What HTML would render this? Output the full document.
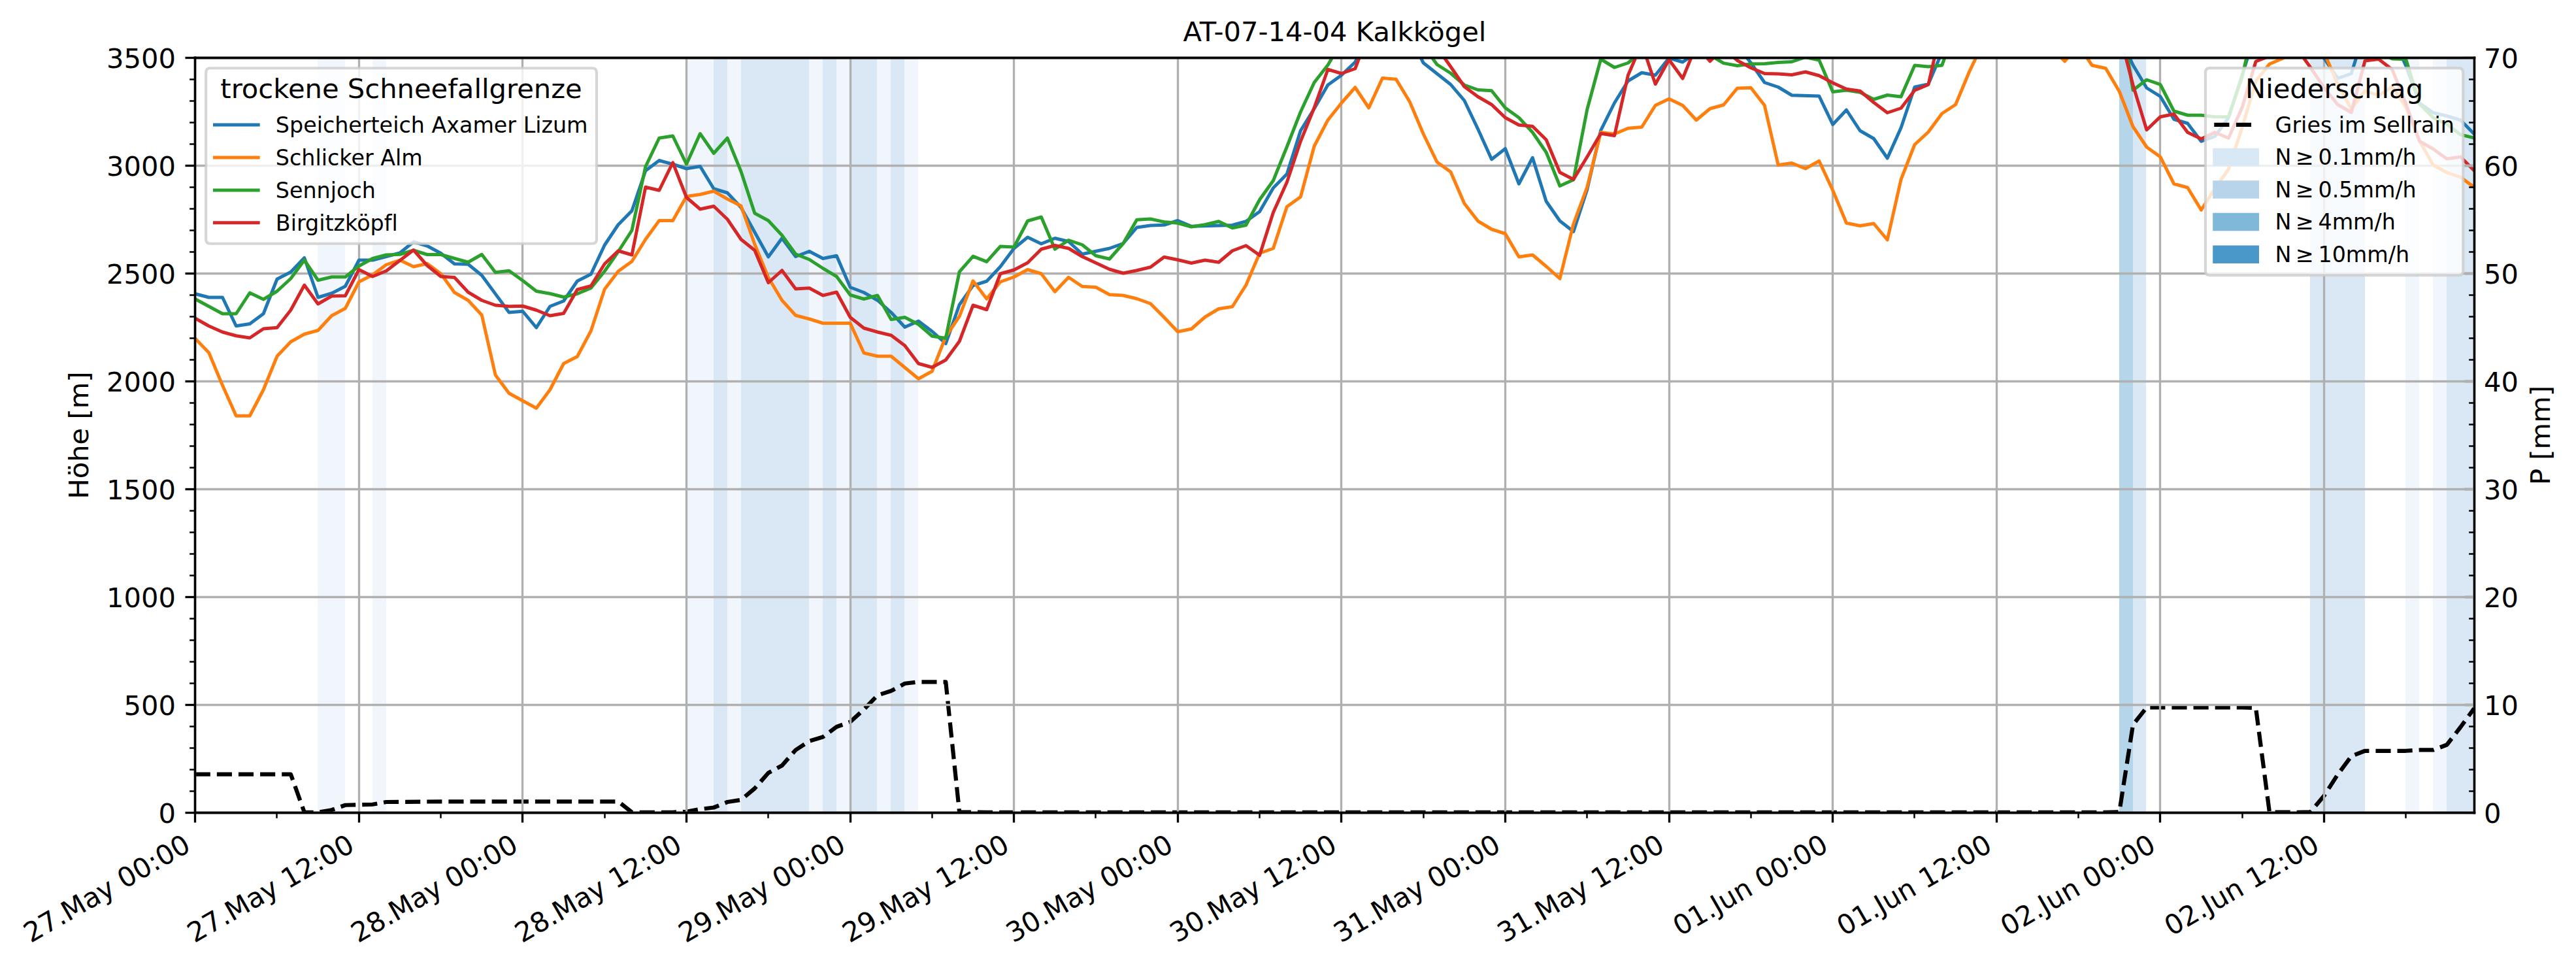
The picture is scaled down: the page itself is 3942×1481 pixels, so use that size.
<!DOCTYPE html>
<html><head><meta charset="utf-8"><title>AT-07-14-04 Kalkkögel</title>
<style>html,body{margin:0;padding:0;background:#fff}svg{display:block}text{font-variant-ligatures:none;font-feature-settings:"liga" 0,"clig" 0}</style></head>
<body>
<svg  width="3942" height="1481" viewBox="0 0 946.08 355.44"  version="1.1">
 
 <defs>
  <style type="text/css">*{stroke-linejoin: round; stroke-linecap: butt}</style>
 </defs>
 <g id="figure_1">
  <g id="patch_1">
   <path d="M 0 355.44 
L 946.08 355.44 
L 946.08 0 
L 0 0 
z
" style="fill: #ffffff"/>
  </g>
  <g id="axes_1">
   <g id="patch_2">
    <path d="M 71.64 298.44 
L 908.76 298.44 
L 908.76 21.24 
L 71.64 21.24 
z
" style="fill: #ffffff"/>
   </g>
   <g id="patch_3">
    <path d="M 116.64 298.44 
L 126.72 298.44 
L 126.72 21.24 
L 116.64 21.24 
z
" clip-path="url(#p593265ad93)" style="fill: #f0f6fb"/>
   </g>
   <g id="patch_4">
    <path d="M 136.8 298.44 
L 141.84 298.44 
L 141.84 21.24 
L 136.8 21.24 
z
" clip-path="url(#p593265ad93)" style="fill: #f0f6fb"/>
   </g>
   <g id="patch_5">
    <path d="M 252 298.44 
L 337.2 298.44 
L 337.2 21.24 
L 252 21.24 
z
" clip-path="url(#p593265ad93)" style="fill: #f0f6fb"/>
   </g>
   <g id="patch_6">
    <path d="M 778.32 298.44 
L 788.16 298.44 
L 788.16 21.24 
L 778.32 21.24 
z
" clip-path="url(#p593265ad93)" style="fill: #f0f6fb"/>
   </g>
   <g id="patch_7">
    <path d="M 848.4 298.44 
L 868.56 298.44 
L 868.56 21.24 
L 848.4 21.24 
z
" clip-path="url(#p593265ad93)" style="fill: #f0f6fb"/>
   </g>
   <g id="patch_8">
    <path d="M 883.44 298.44 
L 888.48 298.44 
L 888.48 21.24 
L 883.44 21.24 
z
" clip-path="url(#p593265ad93)" style="fill: #f0f6fb"/>
   </g>
   <g id="patch_9">
    <path d="M 893.52 298.44 
L 908.64 298.44 
L 908.64 21.24 
L 893.52 21.24 
z
" clip-path="url(#p593265ad93)" style="fill: #f0f6fb"/>
   </g>
   <g id="patch_10">
    <path d="M 262.08 298.44 
L 267.12 298.44 
L 267.12 21.24 
L 262.08 21.24 
z
" clip-path="url(#p593265ad93)" style="fill: #d9e8f4"/>
   </g>
   <g id="patch_11">
    <path d="M 272.16 298.44 
L 297.12 298.44 
L 297.12 21.24 
L 272.16 21.24 
z
" clip-path="url(#p593265ad93)" style="fill: #d9e8f4"/>
   </g>
   <g id="patch_12">
    <path d="M 302.16 298.44 
L 307.2 298.44 
L 307.2 21.24 
L 302.16 21.24 
z
" clip-path="url(#p593265ad93)" style="fill: #d9e8f4"/>
   </g>
   <g id="patch_13">
    <path d="M 312.24 298.44 
L 322.08 298.44 
L 322.08 21.24 
L 312.24 21.24 
z
" clip-path="url(#p593265ad93)" style="fill: #d9e8f4"/>
   </g>
   <g id="patch_14">
    <path d="M 327.12 298.44 
L 332.16 298.44 
L 332.16 21.24 
L 327.12 21.24 
z
" clip-path="url(#p593265ad93)" style="fill: #d9e8f4"/>
   </g>
   <g id="patch_15">
    <path d="M 778.32 298.44 
L 788.16 298.44 
L 788.16 21.24 
L 778.32 21.24 
z
" clip-path="url(#p593265ad93)" style="fill: #d9e8f4"/>
   </g>
   <g id="patch_16">
    <path d="M 848.4 298.44 
L 868.56 298.44 
L 868.56 21.24 
L 848.4 21.24 
z
" clip-path="url(#p593265ad93)" style="fill: #d9e8f4"/>
   </g>
   <g id="patch_17">
    <path d="M 898.56 298.44 
L 908.64 298.44 
L 908.64 21.24 
L 898.56 21.24 
z
" clip-path="url(#p593265ad93)" style="fill: #d9e8f4"/>
   </g>
   <g id="patch_18">
    <path d="M 778.32 298.44 
L 783.36 298.44 
L 783.36 21.24 
L 778.32 21.24 
z
" clip-path="url(#p593265ad93)" style="fill: #b5d5ea"/>
   </g>
   <g id="line2d_1">
    <path d="M 71.688 284.28 
L 106.77144 284.28 
L 111.78336 298.26 
L 116.79528 298.26 
L 121.8072 297.42 
L 126.81912 295.62 
L 136.84296 295.38 
L 141.85488 294.48 
L 156.89064 294.36 
L 227.05752 294.3 
L 232.06944 298.26 
L 247.1052 298.26 
L 252.11712 298.02 
L 257.12904 297.12 
L 262.14096 296.52 
L 267.15288 294.48 
L 272.1648 293.7 
L 277.17672 289.5 
L 282.18864 283.8 
L 287.20056 281.1 
L 292.21248 275.4 
L 297.2244 272.1 
L 302.23632 270.6 
L 307.24824 266.88 
L 312.26016 265.08 
L 317.27208 260.52 
L 322.284 255.3 
L 327.29592 253.68 
L 332.30784 250.98 
L 337.31976 250.38 
L 347.3436 250.38 
L 352.35552 298.2 
L 362.37936 298.2816 
L 773.3568 298.26 
L 778.36872 298.14 
L 783.38064 266.1 
L 788.39256 259.8 
L 823.476 259.8 
L 828.48792 259.92 
L 833.49984 298.2 
L 843.52368 298.26 
L 848.5356 298.14 
L 853.54752 292.2 
L 858.55944 284.4 
L 863.57136 277.68 
L 868.58328 275.7 
L 883.61904 275.7 
L 888.63096 275.4 
L 893.64288 275.4 
L 898.6548 273.48 
L 903.66672 267 
L 908.67864 260.1 
L 908.67864 260.1 
" clip-path="url(#p593265ad93)" style="fill: none; stroke-dasharray: 5.55,2.4; stroke-dashoffset: 0; stroke: #000000; stroke-width: 1.5"/>
   </g>
   <g id="matplotlib.axis_1">
    <g id="xtick_1">
     <g id="line2d_2">
      <path d="M 71.640000 298.44 
L 71.640000 21.24 
" clip-path="url(#p593265ad93)" style="fill: none; stroke: #b0b0b0; stroke-width: 0.8; stroke-linecap: square"/>
     </g>
     <g id="line2d_3">
      <defs>
       <path id="m8d79d36b46" d="M 0 0 
L 0 3.6 
" style="stroke: #000000; stroke-width: 0.8"/>
      </defs>
      <g>
       <use href="#m8d79d36b46" x="71.640000" y="298.44" style="stroke: #000000; stroke-width: 0.8"/>
      </g>
     </g>
     <g id="text_1">
      <text style="font-size: 10px; font-family: 'DejaVu Sans', 'Liberation Sans', sans-serif" transform="translate(11.260464 346.40794) rotate(-30)">27.May 00:00</text>
     </g>
    </g>
    <g id="xtick_2">
     <g id="line2d_4">
      <path d="M 131.880000 298.44 
L 131.880000 21.24 
" clip-path="url(#p593265ad93)" style="fill: none; stroke: #b0b0b0; stroke-width: 0.8; stroke-linecap: square"/>
     </g>
     <g id="line2d_5">
      <g>
       <use href="#m8d79d36b46" x="131.880000" y="298.44" style="stroke: #000000; stroke-width: 0.8"/>
      </g>
     </g>
     <g id="text_2">
      <text style="font-size: 10px; font-family: 'DejaVu Sans', 'Liberation Sans', sans-serif" transform="translate(71.403504 346.40794) rotate(-30)">27.May 12:00</text>
     </g>
    </g>
    <g id="xtick_3">
     <g id="line2d_6">
      <path d="M 191.880000 298.44 
L 191.880000 21.24 
" clip-path="url(#p593265ad93)" style="fill: none; stroke: #b0b0b0; stroke-width: 0.8; stroke-linecap: square"/>
     </g>
     <g id="line2d_7">
      <g>
       <use href="#m8d79d36b46" x="191.880000" y="298.44" style="stroke: #000000; stroke-width: 0.8"/>
      </g>
     </g>
     <g id="text_3">
      <text style="font-size: 10px; font-family: 'DejaVu Sans', 'Liberation Sans', sans-serif" transform="translate(131.546544 346.40794) rotate(-30)">28.May 00:00</text>
     </g>
    </g>
    <g id="xtick_4">
     <g id="line2d_8">
      <path d="M 252.120000 298.44 
L 252.120000 21.24 
" clip-path="url(#p593265ad93)" style="fill: none; stroke: #b0b0b0; stroke-width: 0.8; stroke-linecap: square"/>
     </g>
     <g id="line2d_9">
      <g>
       <use href="#m8d79d36b46" x="252.120000" y="298.44" style="stroke: #000000; stroke-width: 0.8"/>
      </g>
     </g>
     <g id="text_4">
      <text style="font-size: 10px; font-family: 'DejaVu Sans', 'Liberation Sans', sans-serif" transform="translate(191.689584 346.40794) rotate(-30)">28.May 12:00</text>
     </g>
    </g>
    <g id="xtick_5">
     <g id="line2d_10">
      <path d="M 312.360000 298.44 
L 312.360000 21.24 
" clip-path="url(#p593265ad93)" style="fill: none; stroke: #b0b0b0; stroke-width: 0.8; stroke-linecap: square"/>
     </g>
     <g id="line2d_11">
      <g>
       <use href="#m8d79d36b46" x="312.360000" y="298.44" style="stroke: #000000; stroke-width: 0.8"/>
      </g>
     </g>
     <g id="text_5">
      <text style="font-size: 10px; font-family: 'DejaVu Sans', 'Liberation Sans', sans-serif" transform="translate(251.832624 346.40794) rotate(-30)">29.May 00:00</text>
     </g>
    </g>
    <g id="xtick_6">
     <g id="line2d_12">
      <path d="M 372.360000 298.44 
L 372.360000 21.24 
" clip-path="url(#p593265ad93)" style="fill: none; stroke: #b0b0b0; stroke-width: 0.8; stroke-linecap: square"/>
     </g>
     <g id="line2d_13">
      <g>
       <use href="#m8d79d36b46" x="372.360000" y="298.44" style="stroke: #000000; stroke-width: 0.8"/>
      </g>
     </g>
     <g id="text_6">
      <text style="font-size: 10px; font-family: 'DejaVu Sans', 'Liberation Sans', sans-serif" transform="translate(311.975664 346.40794) rotate(-30)">29.May 12:00</text>
     </g>
    </g>
    <g id="xtick_7">
     <g id="line2d_14">
      <path d="M 432.600000 298.44 
L 432.600000 21.24 
" clip-path="url(#p593265ad93)" style="fill: none; stroke: #b0b0b0; stroke-width: 0.8; stroke-linecap: square"/>
     </g>
     <g id="line2d_15">
      <g>
       <use href="#m8d79d36b46" x="432.600000" y="298.44" style="stroke: #000000; stroke-width: 0.8"/>
      </g>
     </g>
     <g id="text_7">
      <text style="font-size: 10px; font-family: 'DejaVu Sans', 'Liberation Sans', sans-serif" transform="translate(372.118704 346.40794) rotate(-30)">30.May 00:00</text>
     </g>
    </g>
    <g id="xtick_8">
     <g id="line2d_16">
      <path d="M 492.600000 298.44 
L 492.600000 21.24 
" clip-path="url(#p593265ad93)" style="fill: none; stroke: #b0b0b0; stroke-width: 0.8; stroke-linecap: square"/>
     </g>
     <g id="line2d_17">
      <g>
       <use href="#m8d79d36b46" x="492.600000" y="298.44" style="stroke: #000000; stroke-width: 0.8"/>
      </g>
     </g>
     <g id="text_8">
      <text style="font-size: 10px; font-family: 'DejaVu Sans', 'Liberation Sans', sans-serif" transform="translate(432.261744 346.40794) rotate(-30)">30.May 12:00</text>
     </g>
    </g>
    <g id="xtick_9">
     <g id="line2d_18">
      <path d="M 552.840000 298.44 
L 552.840000 21.24 
" clip-path="url(#p593265ad93)" style="fill: none; stroke: #b0b0b0; stroke-width: 0.8; stroke-linecap: square"/>
     </g>
     <g id="line2d_19">
      <g>
       <use href="#m8d79d36b46" x="552.840000" y="298.44" style="stroke: #000000; stroke-width: 0.8"/>
      </g>
     </g>
     <g id="text_9">
      <text style="font-size: 10px; font-family: 'DejaVu Sans', 'Liberation Sans', sans-serif" transform="translate(492.404784 346.40794) rotate(-30)">31.May 00:00</text>
     </g>
    </g>
    <g id="xtick_10">
     <g id="line2d_20">
      <path d="M 613.080000 298.44 
L 613.080000 21.24 
" clip-path="url(#p593265ad93)" style="fill: none; stroke: #b0b0b0; stroke-width: 0.8; stroke-linecap: square"/>
     </g>
     <g id="line2d_21">
      <g>
       <use href="#m8d79d36b46" x="613.080000" y="298.44" style="stroke: #000000; stroke-width: 0.8"/>
      </g>
     </g>
     <g id="text_10">
      <text style="font-size: 10px; font-family: 'DejaVu Sans', 'Liberation Sans', sans-serif" transform="translate(552.547824 346.40794) rotate(-30)">31.May 12:00</text>
     </g>
    </g>
    <g id="xtick_11">
     <g id="line2d_22">
      <path d="M 673.080000 298.44 
L 673.080000 21.24 
" clip-path="url(#p593265ad93)" style="fill: none; stroke: #b0b0b0; stroke-width: 0.8; stroke-linecap: square"/>
     </g>
     <g id="line2d_23">
      <g>
       <use href="#m8d79d36b46" x="673.080000" y="298.44" style="stroke: #000000; stroke-width: 0.8"/>
      </g>
     </g>
     <g id="text_11">
      <text style="font-size: 10px; font-family: 'DejaVu Sans', 'Liberation Sans', sans-serif" transform="translate(617.064292 343.88294) rotate(-30)">01.Jun 00:00</text>
     </g>
    </g>
    <g id="xtick_12">
     <g id="line2d_24">
      <path d="M 733.320000 298.44 
L 733.320000 21.24 
" clip-path="url(#p593265ad93)" style="fill: none; stroke: #b0b0b0; stroke-width: 0.8; stroke-linecap: square"/>
     </g>
     <g id="line2d_25">
      <g>
       <use href="#m8d79d36b46" x="733.320000" y="298.44" style="stroke: #000000; stroke-width: 0.8"/>
      </g>
     </g>
     <g id="text_12">
      <text style="font-size: 10px; font-family: 'DejaVu Sans', 'Liberation Sans', sans-serif" transform="translate(677.207332 343.88294) rotate(-30)">01.Jun 12:00</text>
     </g>
    </g>
    <g id="xtick_13">
     <g id="line2d_26">
      <path d="M 793.320000 298.44 
L 793.320000 21.24 
" clip-path="url(#p593265ad93)" style="fill: none; stroke: #b0b0b0; stroke-width: 0.8; stroke-linecap: square"/>
     </g>
     <g id="line2d_27">
      <g>
       <use href="#m8d79d36b46" x="793.320000" y="298.44" style="stroke: #000000; stroke-width: 0.8"/>
      </g>
     </g>
     <g id="text_13">
      <text style="font-size: 10px; font-family: 'DejaVu Sans', 'Liberation Sans', sans-serif" transform="translate(737.350372 343.88294) rotate(-30)">02.Jun 00:00</text>
     </g>
    </g>
    <g id="xtick_14">
     <g id="line2d_28">
      <path d="M 853.560000 298.44 
L 853.560000 21.24 
" clip-path="url(#p593265ad93)" style="fill: none; stroke: #b0b0b0; stroke-width: 0.8; stroke-linecap: square"/>
     </g>
     <g id="line2d_29">
      <g>
       <use href="#m8d79d36b46" x="853.560000" y="298.44" style="stroke: #000000; stroke-width: 0.8"/>
      </g>
     </g>
     <g id="text_14">
      <text style="font-size: 10px; font-family: 'DejaVu Sans', 'Liberation Sans', sans-serif" transform="translate(797.493412 343.88294) rotate(-30)">02.Jun 12:00</text>
     </g>
    </g>
    <g id="xtick_15">
     <g id="line2d_30">
      <defs>
       <path id="m8cb13691d2" d="M 0 0 
L 0 2 
" style="stroke: #000000; stroke-width: 0.6"/>
      </defs>
      <g>
       <use href="#m8cb13691d2" x="101.640000" y="298.44" style="stroke: #000000; stroke-width: 0.6"/>
      </g>
     </g>
    </g>
    <g id="xtick_16">
     <g id="line2d_31">
      <g>
       <use href="#m8cb13691d2" x="161.880000" y="298.44" style="stroke: #000000; stroke-width: 0.6"/>
      </g>
     </g>
    </g>
    <g id="xtick_17">
     <g id="line2d_32">
      <g>
       <use href="#m8cb13691d2" x="222.120000" y="298.44" style="stroke: #000000; stroke-width: 0.6"/>
      </g>
     </g>
    </g>
    <g id="xtick_18">
     <g id="line2d_33">
      <g>
       <use href="#m8cb13691d2" x="282.120000" y="298.44" style="stroke: #000000; stroke-width: 0.6"/>
      </g>
     </g>
    </g>
    <g id="xtick_19">
     <g id="line2d_34">
      <g>
       <use href="#m8cb13691d2" x="342.360000" y="298.44" style="stroke: #000000; stroke-width: 0.6"/>
      </g>
     </g>
    </g>
    <g id="xtick_20">
     <g id="line2d_35">
      <g>
       <use href="#m8cb13691d2" x="402.360000" y="298.44" style="stroke: #000000; stroke-width: 0.6"/>
      </g>
     </g>
    </g>
    <g id="xtick_21">
     <g id="line2d_36">
      <g>
       <use href="#m8cb13691d2" x="462.600000" y="298.44" style="stroke: #000000; stroke-width: 0.6"/>
      </g>
     </g>
    </g>
    <g id="xtick_22">
     <g id="line2d_37">
      <g>
       <use href="#m8cb13691d2" x="522.840000" y="298.44" style="stroke: #000000; stroke-width: 0.6"/>
      </g>
     </g>
    </g>
    <g id="xtick_23">
     <g id="line2d_38">
      <g>
       <use href="#m8cb13691d2" x="582.840000" y="298.44" style="stroke: #000000; stroke-width: 0.6"/>
      </g>
     </g>
    </g>
    <g id="xtick_24">
     <g id="line2d_39">
      <g>
       <use href="#m8cb13691d2" x="643.080000" y="298.44" style="stroke: #000000; stroke-width: 0.6"/>
      </g>
     </g>
    </g>
    <g id="xtick_25">
     <g id="line2d_40">
      <g>
       <use href="#m8cb13691d2" x="703.080000" y="298.44" style="stroke: #000000; stroke-width: 0.6"/>
      </g>
     </g>
    </g>
    <g id="xtick_26">
     <g id="line2d_41">
      <g>
       <use href="#m8cb13691d2" x="763.320000" y="298.44" style="stroke: #000000; stroke-width: 0.6"/>
      </g>
     </g>
    </g>
    <g id="xtick_27">
     <g id="line2d_42">
      <g>
       <use href="#m8cb13691d2" x="823.560000" y="298.44" style="stroke: #000000; stroke-width: 0.6"/>
      </g>
     </g>
    </g>
    <g id="xtick_28">
     <g id="line2d_43">
      <g>
       <use href="#m8cb13691d2" x="883.560000" y="298.44" style="stroke: #000000; stroke-width: 0.6"/>
      </g>
     </g>
    </g>
   </g>
   <g id="matplotlib.axis_2">
    <g id="ytick_1">
     <g id="line2d_44">
      <path d="M 71.64 298.440000 
L 908.76 298.440000 
" clip-path="url(#p593265ad93)" style="fill: none; stroke: #b0b0b0; stroke-width: 0.8; stroke-linecap: square"/>
     </g>
     <g id="line2d_45">
      <defs>
       <path id="m5700839b48" d="M 0 0 
L -3.6 0 
" style="stroke: #000000; stroke-width: 0.8"/>
      </defs>
      <g>
       <use href="#m5700839b48" x="71.64" y="298.440000" style="stroke: #000000; stroke-width: 0.8"/>
      </g>
     </g>
     <g id="text_15">
      <text style="font-size: 10px; font-family: 'DejaVu Sans', 'Liberation Sans', sans-serif; text-anchor: end" x="64.54" y="302.239219" transform="rotate(-0 64.54 302.239219)">0</text>
     </g>
    </g>
    <g id="ytick_2">
     <g id="line2d_46">
      <path d="M 71.64 258.840000 
L 908.76 258.840000 
" clip-path="url(#p593265ad93)" style="fill: none; stroke: #b0b0b0; stroke-width: 0.8; stroke-linecap: square"/>
     </g>
     <g id="line2d_47">
      <g>
       <use href="#m5700839b48" x="71.64" y="258.840000" style="stroke: #000000; stroke-width: 0.8"/>
      </g>
     </g>
     <g id="text_16">
      <text style="font-size: 10px; font-family: 'DejaVu Sans', 'Liberation Sans', sans-serif; text-anchor: end" x="64.54" y="262.639219" transform="rotate(-0 64.54 262.639219)">500</text>
     </g>
    </g>
    <g id="ytick_3">
     <g id="line2d_48">
      <path d="M 71.64 219.240000 
L 908.76 219.240000 
" clip-path="url(#p593265ad93)" style="fill: none; stroke: #b0b0b0; stroke-width: 0.8; stroke-linecap: square"/>
     </g>
     <g id="line2d_49">
      <g>
       <use href="#m5700839b48" x="71.64" y="219.240000" style="stroke: #000000; stroke-width: 0.8"/>
      </g>
     </g>
     <g id="text_17">
      <text style="font-size: 10px; font-family: 'DejaVu Sans', 'Liberation Sans', sans-serif; text-anchor: end" x="64.54" y="223.039219" transform="rotate(-0 64.54 223.039219)">1000</text>
     </g>
    </g>
    <g id="ytick_4">
     <g id="line2d_50">
      <path d="M 71.64 179.640000 
L 908.76 179.640000 
" clip-path="url(#p593265ad93)" style="fill: none; stroke: #b0b0b0; stroke-width: 0.8; stroke-linecap: square"/>
     </g>
     <g id="line2d_51">
      <g>
       <use href="#m5700839b48" x="71.64" y="179.640000" style="stroke: #000000; stroke-width: 0.8"/>
      </g>
     </g>
     <g id="text_18">
      <text style="font-size: 10px; font-family: 'DejaVu Sans', 'Liberation Sans', sans-serif; text-anchor: end" x="64.54" y="183.439219" transform="rotate(-0 64.54 183.439219)">1500</text>
     </g>
    </g>
    <g id="ytick_5">
     <g id="line2d_52">
      <path d="M 71.64 140.040000 
L 908.76 140.040000 
" clip-path="url(#p593265ad93)" style="fill: none; stroke: #b0b0b0; stroke-width: 0.8; stroke-linecap: square"/>
     </g>
     <g id="line2d_53">
      <g>
       <use href="#m5700839b48" x="71.64" y="140.040000" style="stroke: #000000; stroke-width: 0.8"/>
      </g>
     </g>
     <g id="text_19">
      <text style="font-size: 10px; font-family: 'DejaVu Sans', 'Liberation Sans', sans-serif; text-anchor: end" x="64.54" y="143.839219" transform="rotate(-0 64.54 143.839219)">2000</text>
     </g>
    </g>
    <g id="ytick_6">
     <g id="line2d_54">
      <path d="M 71.64 100.440000 
L 908.76 100.440000 
" clip-path="url(#p593265ad93)" style="fill: none; stroke: #b0b0b0; stroke-width: 0.8; stroke-linecap: square"/>
     </g>
     <g id="line2d_55">
      <g>
       <use href="#m5700839b48" x="71.64" y="100.440000" style="stroke: #000000; stroke-width: 0.8"/>
      </g>
     </g>
     <g id="text_20">
      <text style="font-size: 10px; font-family: 'DejaVu Sans', 'Liberation Sans', sans-serif; text-anchor: end" x="64.54" y="104.239219" transform="rotate(-0 64.54 104.239219)">2500</text>
     </g>
    </g>
    <g id="ytick_7">
     <g id="line2d_56">
      <path d="M 71.64 60.840000 
L 908.76 60.840000 
" clip-path="url(#p593265ad93)" style="fill: none; stroke: #b0b0b0; stroke-width: 0.8; stroke-linecap: square"/>
     </g>
     <g id="line2d_57">
      <g>
       <use href="#m5700839b48" x="71.64" y="60.840000" style="stroke: #000000; stroke-width: 0.8"/>
      </g>
     </g>
     <g id="text_21">
      <text style="font-size: 10px; font-family: 'DejaVu Sans', 'Liberation Sans', sans-serif; text-anchor: end" x="64.54" y="64.639219" transform="rotate(-0 64.54 64.639219)">3000</text>
     </g>
    </g>
    <g id="ytick_8">
     <g id="line2d_58">
      <path d="M 71.64 21.240000 
L 908.76 21.240000 
" clip-path="url(#p593265ad93)" style="fill: none; stroke: #b0b0b0; stroke-width: 0.8; stroke-linecap: square"/>
     </g>
     <g id="line2d_59">
      <g>
       <use href="#m5700839b48" x="71.64" y="21.240000" style="stroke: #000000; stroke-width: 0.8"/>
      </g>
     </g>
     <g id="text_22">
      <text style="font-size: 10px; font-family: 'DejaVu Sans', 'Liberation Sans', sans-serif; text-anchor: end" x="64.54" y="25.039219" transform="rotate(-0 64.54 25.039219)">3500</text>
     </g>
    </g>
    <g id="ytick_9">
     <g id="line2d_60">
      <defs>
       <path id="m90fd80a96a" d="M 0 0 
L -2 0 
" style="stroke: #000000; stroke-width: 0.6"/>
      </defs>
      <g>
       <use href="#m90fd80a96a" x="71.64" y="290.520000" style="stroke: #000000; stroke-width: 0.6"/>
      </g>
     </g>
    </g>
    <g id="ytick_10">
     <g id="line2d_61">
      <g>
       <use href="#m90fd80a96a" x="71.64" y="282.600000" style="stroke: #000000; stroke-width: 0.6"/>
      </g>
     </g>
    </g>
    <g id="ytick_11">
     <g id="line2d_62">
      <g>
       <use href="#m90fd80a96a" x="71.64" y="274.680000" style="stroke: #000000; stroke-width: 0.6"/>
      </g>
     </g>
    </g>
    <g id="ytick_12">
     <g id="line2d_63">
      <g>
       <use href="#m90fd80a96a" x="71.64" y="266.760000" style="stroke: #000000; stroke-width: 0.6"/>
      </g>
     </g>
    </g>
    <g id="ytick_13">
     <g id="line2d_64">
      <g>
       <use href="#m90fd80a96a" x="71.64" y="250.920000" style="stroke: #000000; stroke-width: 0.6"/>
      </g>
     </g>
    </g>
    <g id="ytick_14">
     <g id="line2d_65">
      <g>
       <use href="#m90fd80a96a" x="71.64" y="243.000000" style="stroke: #000000; stroke-width: 0.6"/>
      </g>
     </g>
    </g>
    <g id="ytick_15">
     <g id="line2d_66">
      <g>
       <use href="#m90fd80a96a" x="71.64" y="235.080000" style="stroke: #000000; stroke-width: 0.6"/>
      </g>
     </g>
    </g>
    <g id="ytick_16">
     <g id="line2d_67">
      <g>
       <use href="#m90fd80a96a" x="71.64" y="227.160000" style="stroke: #000000; stroke-width: 0.6"/>
      </g>
     </g>
    </g>
    <g id="ytick_17">
     <g id="line2d_68">
      <g>
       <use href="#m90fd80a96a" x="71.64" y="211.320000" style="stroke: #000000; stroke-width: 0.6"/>
      </g>
     </g>
    </g>
    <g id="ytick_18">
     <g id="line2d_69">
      <g>
       <use href="#m90fd80a96a" x="71.64" y="203.400000" style="stroke: #000000; stroke-width: 0.6"/>
      </g>
     </g>
    </g>
    <g id="ytick_19">
     <g id="line2d_70">
      <g>
       <use href="#m90fd80a96a" x="71.64" y="195.480000" style="stroke: #000000; stroke-width: 0.6"/>
      </g>
     </g>
    </g>
    <g id="ytick_20">
     <g id="line2d_71">
      <g>
       <use href="#m90fd80a96a" x="71.64" y="187.560000" style="stroke: #000000; stroke-width: 0.6"/>
      </g>
     </g>
    </g>
    <g id="ytick_21">
     <g id="line2d_72">
      <g>
       <use href="#m90fd80a96a" x="71.64" y="171.720000" style="stroke: #000000; stroke-width: 0.6"/>
      </g>
     </g>
    </g>
    <g id="ytick_22">
     <g id="line2d_73">
      <g>
       <use href="#m90fd80a96a" x="71.64" y="163.800000" style="stroke: #000000; stroke-width: 0.6"/>
      </g>
     </g>
    </g>
    <g id="ytick_23">
     <g id="line2d_74">
      <g>
       <use href="#m90fd80a96a" x="71.64" y="155.880000" style="stroke: #000000; stroke-width: 0.6"/>
      </g>
     </g>
    </g>
    <g id="ytick_24">
     <g id="line2d_75">
      <g>
       <use href="#m90fd80a96a" x="71.64" y="147.960000" style="stroke: #000000; stroke-width: 0.6"/>
      </g>
     </g>
    </g>
    <g id="ytick_25">
     <g id="line2d_76">
      <g>
       <use href="#m90fd80a96a" x="71.64" y="132.120000" style="stroke: #000000; stroke-width: 0.6"/>
      </g>
     </g>
    </g>
    <g id="ytick_26">
     <g id="line2d_77">
      <g>
       <use href="#m90fd80a96a" x="71.64" y="124.200000" style="stroke: #000000; stroke-width: 0.6"/>
      </g>
     </g>
    </g>
    <g id="ytick_27">
     <g id="line2d_78">
      <g>
       <use href="#m90fd80a96a" x="71.64" y="116.280000" style="stroke: #000000; stroke-width: 0.6"/>
      </g>
     </g>
    </g>
    <g id="ytick_28">
     <g id="line2d_79">
      <g>
       <use href="#m90fd80a96a" x="71.64" y="108.360000" style="stroke: #000000; stroke-width: 0.6"/>
      </g>
     </g>
    </g>
    <g id="ytick_29">
     <g id="line2d_80">
      <g>
       <use href="#m90fd80a96a" x="71.64" y="92.520000" style="stroke: #000000; stroke-width: 0.6"/>
      </g>
     </g>
    </g>
    <g id="ytick_30">
     <g id="line2d_81">
      <g>
       <use href="#m90fd80a96a" x="71.64" y="84.600000" style="stroke: #000000; stroke-width: 0.6"/>
      </g>
     </g>
    </g>
    <g id="ytick_31">
     <g id="line2d_82">
      <g>
       <use href="#m90fd80a96a" x="71.64" y="76.680000" style="stroke: #000000; stroke-width: 0.6"/>
      </g>
     </g>
    </g>
    <g id="ytick_32">
     <g id="line2d_83">
      <g>
       <use href="#m90fd80a96a" x="71.64" y="68.760000" style="stroke: #000000; stroke-width: 0.6"/>
      </g>
     </g>
    </g>
    <g id="ytick_33">
     <g id="line2d_84">
      <g>
       <use href="#m90fd80a96a" x="71.64" y="52.920000" style="stroke: #000000; stroke-width: 0.6"/>
      </g>
     </g>
    </g>
    <g id="ytick_34">
     <g id="line2d_85">
      <g>
       <use href="#m90fd80a96a" x="71.64" y="45.000000" style="stroke: #000000; stroke-width: 0.6"/>
      </g>
     </g>
    </g>
    <g id="ytick_35">
     <g id="line2d_86">
      <g>
       <use href="#m90fd80a96a" x="71.64" y="37.080000" style="stroke: #000000; stroke-width: 0.6"/>
      </g>
     </g>
    </g>
    <g id="ytick_36">
     <g id="line2d_87">
      <g>
       <use href="#m90fd80a96a" x="71.64" y="29.160000" style="stroke: #000000; stroke-width: 0.6"/>
      </g>
     </g>
    </g>
    <g id="text_23">
     <text style="font-size: 10px; font-family: 'DejaVu Sans', 'Liberation Sans', sans-serif; text-anchor: middle" x="32.290312" y="159.84" transform="rotate(-90 32.290312 159.84)">Höhe [m]</text>
    </g>
   </g>
   <g id="line2d_88">
    <path d="M 71.688 107.88 
L 76.69992 109.2 
L 81.71184 109.2 
L 86.72376 119.7 
L 91.73568 118.92 
L 96.7476 115.2 
L 101.75952 102.48 
L 106.77144 99.9 
L 111.78336 94.68 
L 116.79528 109.2 
L 121.8072 107.7 
L 126.81912 105.12 
L 131.83104 95.52 
L 136.84296 95.52 
L 146.8668 92.88 
L 151.87872 88.8 
L 156.89064 90.3 
L 161.90256 93 
L 166.91448 96.9 
L 171.9264 97.02 
L 176.93832 101.1 
L 186.96216 114.72 
L 191.97408 114.3 
L 196.986 120.3 
L 201.99792 112.5 
L 207.00984 110.52 
L 212.02176 103.2 
L 217.03368 100.68 
L 222.0456 90 
L 227.05752 82.5 
L 232.06944 77.4 
L 237.08136 62.7 
L 242.09328 58.92 
L 247.1052 60.3 
L 252.11712 61.92 
L 257.12904 61.08 
L 262.14096 69.3 
L 267.15288 70.8 
L 272.1648 76.2 
L 282.18864 94.32 
L 287.20056 87.48 
L 292.21248 94.2 
L 297.2244 92.28 
L 302.23632 94.92 
L 307.24824 93.9 
L 312.26016 105.48 
L 317.27208 107.4 
L 322.284 110.28 
L 327.29592 114.72 
L 332.30784 120.12 
L 337.31976 117.9 
L 342.33168 121.68 
L 347.3436 126.18 
L 352.35552 111.9 
L 357.36744 104.85 
L 362.37936 103.26 
L 367.39128 97.92 
L 372.4032 91.2 
L 377.41512 87.12 
L 382.42704 89.52 
L 387.43896 87.48 
L 392.45088 88.68 
L 397.4628 93.3 
L 407.48664 91.2 
L 412.49856 89.4 
L 417.51048 83.52 
L 422.5224 82.8 
L 427.53432 82.62 
L 432.54624 81 
L 437.55816 83.1 
L 452.59392 82.68 
L 457.60584 81.3 
L 462.61776 77.7 
L 467.62968 69 
L 472.6416 63.9 
L 477.65352 48 
L 482.66544 39.9 
L 487.67736 31.2 
L 492.68928 27.6 
L 497.7012 22.8 
L 502.71312 13.2 
L 507.72504 10.2 
L 512.73696 10.2 
L 517.74888 13.32 
L 522.7608 23.1 
L 532.78464 31.02 
L 537.79656 36.9 
L 542.80848 47.4 
L 547.8204 58.5 
L 552.83232 54.6 
L 557.84424 67.5 
L 562.85616 57.9 
L 567.86808 73.92 
L 572.88 81.12 
L 577.89192 85.02 
L 582.90384 69.6 
L 587.91576 47.88 
L 592.92768 37.8 
L 597.9396 29.7 
L 602.95152 26.7 
L 607.96344 27.6 
L 612.97536 21.3 
L 617.98728 22.8 
L 622.9992 19.392 
L 628.01112 10.8 
L 633.02304 16.8 
L 638.03496 16.56 
L 643.04688 23.1 
L 648.0588 30.3 
L 653.07072 31.98 
L 658.08264 34.98 
L 668.10648 35.28 
L 673.1184 45.72 
L 678.13032 40.38 
L 683.14224 48 
L 688.15416 50.88 
L 693.16608 58.08 
L 698.178 46.92 
L 703.18992 31.98 
L 708.20184 30.9 
L 713.21376 19.2 
L 718.22568 10.2 
L 723.2376 10.8 
L 773.3568 10.8 
L 778.36872 13.2 
L 783.38064 23.88 
L 788.39256 32.28 
L 793.40448 35.4 
L 798.4164 43.8 
L 803.42832 45.3 
L 808.44024 51.9 
L 813.45216 50.1 
L 818.46408 43.2 
L 823.476 27.6 
L 828.48792 11.52 
L 833.49984 9.6 
L 843.52368 9.6 
L 848.5356 10.8 
L 853.54752 21.36 
L 858.55944 28.8 
L 863.57136 27 
L 868.58328 10.8 
L 873.5952 9.6 
L 878.60712 13.2 
L 883.61904 24.168 
L 888.63096 37.848 
L 893.64288 41.4 
L 898.6548 42.6 
L 903.66672 44.1 
L 908.67864 49.2 
L 908.67864 49.2 
" clip-path="url(#p593265ad93)" style="fill: none; stroke: #1f77b4; stroke-width: 1.2; stroke-linecap: square"/>
   </g>
   <g id="line2d_89">
    <path d="M 71.688 124.32 
L 76.69992 129.48 
L 81.71184 141.48 
L 86.72376 152.7 
L 91.73568 152.7 
L 96.7476 143.1 
L 101.75952 130.8 
L 106.77144 125.52 
L 111.78336 122.7 
L 116.79528 121.32 
L 121.8072 115.92 
L 126.81912 113.22 
L 131.83104 103.5 
L 136.84296 100.92 
L 141.85488 97.2 
L 146.8668 95.52 
L 151.87872 97.92 
L 156.89064 96.78 
L 161.90256 100.5 
L 166.91448 107.4 
L 171.9264 110.28 
L 176.93832 115.68 
L 181.95024 137.7 
L 186.96216 144.42 
L 196.986 149.88 
L 201.99792 143.1 
L 207.00984 133.5 
L 212.02176 130.92 
L 217.03368 121.5 
L 222.0456 106.2 
L 227.05752 99.6 
L 232.06944 96 
L 237.08136 87.9 
L 242.09328 81 
L 247.1052 81 
L 252.11712 72.12 
L 257.12904 71.4 
L 262.14096 70.2 
L 267.15288 73.08 
L 272.1648 75.6 
L 277.17672 89.7 
L 282.18864 101.88 
L 287.20056 110.28 
L 292.21248 115.8 
L 297.2244 117.12 
L 302.23632 118.68 
L 312.26016 118.68 
L 317.27208 129.6 
L 322.284 130.8 
L 327.29592 130.8 
L 337.31976 139.08 
L 342.33168 136.32 
L 347.3436 123.6 
L 352.35552 116.19 
L 357.36744 103.14 
L 362.37936 109.74 
L 367.39128 103.5 
L 372.4032 101.7 
L 377.41512 99 
L 382.42704 100.5 
L 387.43896 107.1 
L 392.45088 101.82 
L 397.4628 105.18 
L 402.47472 105.48 
L 407.48664 108.18 
L 412.49856 108.48 
L 417.51048 109.68 
L 422.5224 111.48 
L 427.53432 116.52 
L 432.54624 121.8 
L 437.55816 120.78 
L 442.57008 116.4 
L 447.582 113.4 
L 452.59392 112.62 
L 457.60584 104.7 
L 462.61776 93 
L 467.62968 91.2 
L 472.6416 75.9 
L 477.65352 72.3 
L 482.66544 53.7 
L 487.67736 44.1 
L 492.68928 37.8 
L 497.7012 32.1 
L 502.71312 39.6 
L 507.72504 28.68 
L 512.73696 29.1 
L 517.74888 37.38 
L 522.7608 49.2 
L 527.77272 59.52 
L 532.78464 63.12 
L 537.79656 74.7 
L 542.80848 81.18 
L 547.8204 84.18 
L 552.83232 85.8 
L 557.84424 94.32 
L 562.85616 93.6 
L 567.86808 97.8 
L 572.88 102.3 
L 577.89192 82.2 
L 582.90384 68.7 
L 587.91576 48.6 
L 592.92768 49.2 
L 597.9396 47.1 
L 602.95152 46.68 
L 607.96344 38.7 
L 612.97536 36.3 
L 617.98728 38.7 
L 622.9992 44.1 
L 628.01112 39.9 
L 633.02304 38.52 
L 638.03496 32.4 
L 643.04688 32.22 
L 648.0588 38.7 
L 653.07072 60.6 
L 658.08264 59.88 
L 663.09456 61.92 
L 668.10648 59.1 
L 673.1184 69.9 
L 678.13032 81.9 
L 683.14224 82.92 
L 688.15416 82.08 
L 693.16608 88.08 
L 698.178 65.88 
L 703.18992 53.1 
L 708.20184 48.48 
L 713.21376 41.7 
L 718.22568 38.4 
L 723.2376 26.4 
L 728.24952 15.84 
L 733.26144 13.2 
L 748.2972 13.2 
L 753.30912 17.4 
L 758.32104 22.5 
L 763.33296 16.56 
L 768.34488 24 
L 773.3568 25.08 
L 778.36872 33.6 
L 783.38064 46.5 
L 788.39256 54 
L 793.40448 57.6 
L 798.4164 67.5 
L 803.42832 68.88 
L 808.44024 77.1 
L 813.45216 69.3 
L 818.46408 62.1 
L 823.476 46.8 
L 828.48792 29.76 
L 833.49984 23.52 
L 838.51176 21.36 
L 843.52368 16.8 
L 848.5356 14.4 
L 853.54752 19.2 
L 858.55944 30.96 
L 863.57136 40.08 
L 868.58328 33.36 
L 873.5952 35.04 
L 878.60712 31.8 
L 883.61904 39.36 
L 888.63096 51.84 
L 893.64288 60.6 
L 898.6548 63.36 
L 903.66672 65.04 
L 908.67864 68.76 
L 908.67864 68.76 
" clip-path="url(#p593265ad93)" style="fill: none; stroke: #ff7f0e; stroke-width: 1.2; stroke-linecap: square"/>
   </g>
   <g id="line2d_90">
    <path d="M 71.688 109.8 
L 81.71184 115.2 
L 86.72376 115.2 
L 91.73568 107.52 
L 96.7476 109.92 
L 101.75952 106.92 
L 106.77144 102.3 
L 111.78336 95.52 
L 116.79528 102.9 
L 121.8072 101.7 
L 126.81912 101.7 
L 131.83104 97.68 
L 136.84296 94.92 
L 141.85488 93.6 
L 146.8668 93.42 
L 151.87872 91.92 
L 156.89064 93.48 
L 161.90256 93.48 
L 171.9264 96.3 
L 176.93832 93.42 
L 181.95024 100.02 
L 186.96216 99.42 
L 191.97408 103.02 
L 196.986 106.92 
L 201.99792 107.82 
L 207.00984 109.08 
L 212.02176 107.88 
L 217.03368 105.78 
L 222.0456 99.6 
L 227.05752 92.4 
L 232.06944 84.6 
L 237.08136 61.2 
L 242.09328 50.7 
L 247.1052 49.92 
L 252.11712 60.3 
L 257.12904 49.08 
L 262.14096 56.28 
L 267.15288 50.7 
L 272.1648 63 
L 277.17672 78.3 
L 282.18864 81 
L 287.20056 86.4 
L 292.21248 93.3 
L 297.2244 95.28 
L 302.23632 98.52 
L 307.24824 101.52 
L 312.26016 108.3 
L 317.27208 109.8 
L 322.284 108.48 
L 327.29592 117.3 
L 332.30784 116.52 
L 337.31976 119.1 
L 342.33168 123.42 
L 347.3436 124.2 
L 352.35552 99.81 
L 357.36744 94.11 
L 362.37936 96.09 
L 367.39128 90.48 
L 372.4032 90.72 
L 377.41512 81.12 
L 382.42704 79.68 
L 387.43896 91.5 
L 392.45088 88.2 
L 397.4628 89.88 
L 402.47472 93.9 
L 407.48664 95.1 
L 412.49856 89.4 
L 417.51048 80.7 
L 422.5224 80.4 
L 427.53432 81.48 
L 432.54624 81.9 
L 437.55816 83.28 
L 442.57008 82.5 
L 447.582 81.3 
L 452.59392 83.7 
L 457.60584 82.68 
L 462.61776 73.32 
L 467.62968 66.3 
L 472.6416 53.88 
L 477.65352 41.1 
L 482.66544 30.3 
L 487.67736 23.88 
L 492.68928 15.42 
L 497.7012 13.2 
L 502.71312 10.2 
L 512.73696 10.2 
L 517.74888 12 
L 522.7608 16.8 
L 527.77272 23.7 
L 532.78464 26.88 
L 537.79656 31.2 
L 542.80848 33 
L 547.8204 33.3 
L 552.83232 39.6 
L 557.84424 43.2 
L 562.85616 48.6 
L 567.86808 55.92 
L 572.88 68.28 
L 577.89192 66 
L 582.90384 40.2 
L 587.91576 21.72 
L 592.92768 24.78 
L 597.9396 23.1 
L 602.95152 18.84 
L 607.96344 10.8 
L 622.9992 10.8 
L 628.01112 20.232 
L 633.02304 23.19 
L 638.03496 24.12 
L 643.04688 23.46 
L 648.0588 23.4 
L 653.07072 22.92 
L 658.08264 22.68 
L 663.09456 21 
L 668.10648 22.08 
L 673.1184 33.72 
L 678.13032 33.12 
L 683.14224 33.9 
L 688.15416 36.48 
L 693.16608 34.92 
L 698.178 35.52 
L 703.18992 24 
L 708.20184 24.48 
L 713.21376 24 
L 718.22568 10.2 
L 723.2376 10.8 
L 773.3568 10.8 
L 778.36872 2.4 
L 783.38064 33.12 
L 788.39256 29.28 
L 793.40448 31.02 
L 798.4164 40.8 
L 803.42832 42.3 
L 808.44024 42.3 
L 813.45216 42.9 
L 818.46408 42.9 
L 823.476 28.2 
L 828.48792 6 
L 833.49984 4.8 
L 863.57136 4.8 
L 868.58328 9.6 
L 873.5952 19.2 
L 878.60712 21.576 
L 883.61904 21.768 
L 888.63096 38.232 
L 893.64288 43.2 
L 898.6548 45.6 
L 903.66672 49.44 
L 908.67864 50.64 
L 908.67864 50.64 
" clip-path="url(#p593265ad93)" style="fill: none; stroke: #2ca02c; stroke-width: 1.2; stroke-linecap: square"/>
   </g>
   <g id="line2d_91">
    <path d="M 71.688 116.88 
L 76.69992 119.7 
L 81.71184 121.92 
L 86.72376 123.3 
L 91.73568 124.08 
L 96.7476 120.72 
L 101.75952 120.3 
L 106.77144 113.88 
L 111.78336 104.7 
L 116.79528 111.6 
L 121.8072 108.72 
L 126.81912 108.6 
L 131.83104 99 
L 136.84296 101.52 
L 141.85488 99.48 
L 151.87872 91.8 
L 156.89064 97.5 
L 161.90256 101.52 
L 166.91448 101.88 
L 171.9264 107.28 
L 176.93832 110.28 
L 181.95024 112.08 
L 186.96216 112.5 
L 191.97408 112.38 
L 196.986 113.88 
L 201.99792 115.92 
L 207.00984 115.08 
L 212.02176 106.32 
L 217.03368 105 
L 222.0456 96.9 
L 227.05752 92.1 
L 232.06944 93.6 
L 237.08136 68.7 
L 242.09328 69.9 
L 247.1052 59.7 
L 252.11712 72.48 
L 257.12904 76.8 
L 262.14096 75.72 
L 267.15288 80.52 
L 272.1648 87.9 
L 277.17672 91.92 
L 282.18864 103.8 
L 287.20056 99.3 
L 292.21248 106.08 
L 297.2244 105.78 
L 302.23632 108.48 
L 307.24824 107.28 
L 312.26016 116.52 
L 317.27208 120.48 
L 322.284 121.92 
L 327.29592 123.12 
L 332.30784 126.9 
L 337.31976 133.5 
L 342.33168 134.88 
L 347.3436 132.18 
L 352.35552 125.34 
L 357.36744 112.08 
L 362.37936 113.7 
L 367.39128 100.5 
L 372.4032 99.12 
L 377.41512 96.48 
L 382.42704 91.5 
L 387.43896 90.12 
L 392.45088 91.2 
L 397.4628 94.2 
L 407.48664 98.88 
L 412.49856 100.32 
L 417.51048 99.3 
L 422.5224 98.1 
L 427.53432 94.38 
L 432.54624 95.4 
L 437.55816 96.6 
L 442.57008 95.52 
L 447.582 96.3 
L 452.59392 92.1 
L 457.60584 90.18 
L 462.61776 93.72 
L 467.62968 78 
L 472.6416 66.9 
L 477.65352 51.9 
L 482.66544 39.6 
L 487.67736 25.5 
L 492.68928 27 
L 497.7012 25.2 
L 502.71312 12 
L 507.72504 10.2 
L 517.74888 10.2 
L 522.7608 12 
L 527.77272 17.4 
L 532.78464 24.48 
L 537.79656 31.8 
L 542.80848 35.52 
L 547.8204 38.4 
L 552.83232 43.2 
L 557.84424 45.9 
L 562.85616 46.38 
L 567.86808 51.3 
L 572.88 63.3 
L 577.89192 65.88 
L 582.90384 57.6 
L 587.91576 49.02 
L 592.92768 49.8 
L 597.9396 27.6 
L 602.95152 16.02 
L 607.96344 30.9 
L 612.97536 21.9 
L 617.98728 28.8 
L 622.9992 16.62 
L 628.01112 22.5 
L 633.02304 17.712 
L 638.03496 22.2 
L 643.04688 24.9 
L 648.0588 27 
L 653.07072 27.12 
L 658.08264 27.48 
L 663.09456 26.4 
L 668.10648 27.78 
L 673.1184 30.42 
L 678.13032 32.7 
L 683.14224 33.42 
L 688.15416 37.62 
L 693.16608 41.4 
L 698.178 39.72 
L 703.18992 33.18 
L 708.20184 31.08 
L 713.21376 9.3 
L 718.22568 7.2 
L 723.2376 10.8 
L 773.3568 10.8 
L 778.36872 12 
L 783.38064 31.2 
L 788.39256 47.7 
L 793.40448 42.9 
L 798.4164 41.88 
L 803.42832 48.6 
L 808.44024 51 
L 813.45216 48.6 
L 818.46408 50.7 
L 823.476 39.432 
L 828.48792 22.56 
L 833.49984 20.64 
L 838.51176 16.8 
L 843.52368 17.76 
L 848.5356 24.72 
L 853.54752 32.16 
L 858.55944 38.4 
L 863.57136 41.28 
L 868.58328 22.32 
L 873.5952 21.696 
L 878.60712 25.584 
L 883.61904 38.16 
L 888.63096 51.84 
L 893.64288 54.72 
L 898.6548 58.32 
L 903.66672 57.6 
L 908.67864 62.64 
L 908.67864 62.64 
" clip-path="url(#p593265ad93)" style="fill: none; stroke: #d62728; stroke-width: 1.2; stroke-linecap: square"/>
   </g>
   <g id="patch_19">
    <path d="M 71.64 298.44 
L 71.64 21.24 
" style="fill: none; stroke: #000000; stroke-width: 0.8; stroke-linejoin: miter; stroke-linecap: square"/>
   </g>
   <g id="patch_20">
    <path d="M 908.76 298.44 
L 908.76 21.24 
" style="fill: none; stroke: #000000; stroke-width: 0.8; stroke-linejoin: miter; stroke-linecap: square"/>
   </g>
   <g id="patch_21">
    <path d="M 71.64 298.44 
L 908.76 298.44 
" style="fill: none; stroke: #000000; stroke-width: 0.8; stroke-linejoin: miter; stroke-linecap: square"/>
   </g>
   <g id="patch_22">
    <path d="M 71.64 21.24 
L 908.76 21.24 
" style="fill: none; stroke: #000000; stroke-width: 0.8; stroke-linejoin: miter; stroke-linecap: square"/>
   </g>
   <g id="text_24">
    <text style="font-size: 10px; font-family: 'DejaVu Sans', 'Liberation Sans', sans-serif; text-anchor: middle" x="490.2" y="15.24" transform="rotate(-0 490.2 15.24)">AT-07-14-04 Kalkkögel</text>
   </g>
   <g id="legend_1">
    <g id="patch_23">
     <path d="M 77.24 89.468932 
L 217.5125 89.468932 
Q 219.1125 89.468932 219.1125 87.868932 
L 219.1125 26.624 
Q 219.1125 25.024 217.5125 25.024 
L 77.24 25.024 
Q 75.64 25.024 75.64 26.624 
L 75.64 87.868932 
Q 75.64 89.468932 77.24 89.468932 
z
" style="fill: #ffffff; fill-opacity: 0.8; stroke: #cccccc; stroke-opacity: 0.8; stroke-linejoin: miter"/>
    </g>
    <g id="text_25">
     <text style="font-size: 10px; font-family: 'DejaVu Sans', 'Liberation Sans', sans-serif; text-anchor: start" x="80.959844" y="36.086437" transform="rotate(-0 80.959844 36.086437)">trockene Schneefallgrenze</text>
    </g>
    <g id="line2d_92">
     <path d="M 78.84 45.864875 
L 86.84 45.864875 
L 94.84 45.864875 
" style="fill: none; stroke: #1f77b4; stroke-width: 1.2; stroke-linecap: square"/>
    </g>
    <g id="text_26">
     <text style="font-size: 8px; font-family: 'DejaVu Sans', 'Liberation Sans', sans-serif; text-anchor: start" x="101.24" y="48.664875" transform="rotate(-0 101.24 48.664875)">Speicherteich Axamer Lizum</text>
    </g>
    <g id="line2d_93">
     <path d="M 78.84 57.844977 
L 86.84 57.844977 
L 94.84 57.844977 
" style="fill: none; stroke: #ff7f0e; stroke-width: 1.2; stroke-linecap: square"/>
    </g>
    <g id="text_27">
     <text style="font-size: 8px; font-family: 'DejaVu Sans', 'Liberation Sans', sans-serif; text-anchor: start" x="101.24" y="60.644977" transform="rotate(-0 101.24 60.644977)">Schlicker Alm</text>
    </g>
    <g id="line2d_94">
     <path d="M 78.84 69.82508 
L 86.84 69.82508 
L 94.84 69.82508 
" style="fill: none; stroke: #2ca02c; stroke-width: 1.2; stroke-linecap: square"/>
    </g>
    <g id="text_28">
     <text style="font-size: 8px; font-family: 'DejaVu Sans', 'Liberation Sans', sans-serif; text-anchor: start" x="101.24" y="72.62508" transform="rotate(-0 101.24 72.62508)">Sennjoch</text>
    </g>
    <g id="line2d_95">
     <path d="M 78.84 81.805182 
L 86.84 81.805182 
L 94.84 81.805182 
" style="fill: none; stroke: #d62728; stroke-width: 1.2; stroke-linecap: square"/>
    </g>
    <g id="text_29">
     <text style="font-size: 8px; font-family: 'DejaVu Sans', 'Liberation Sans', sans-serif; text-anchor: start" x="101.24" y="84.605182" transform="rotate(-0 101.24 84.605182)">Birgitzköpfl</text>
    </g>
   </g>
  </g>
  <g id="axes_2">
   <g id="matplotlib.axis_3">
    <g id="ytick_37">
     <g id="line2d_96">
      <defs>
       <path id="m1b8904711f" d="M 0 0 
L -3.6 0 
" style="stroke: #b0b0b0"/>
      </defs>
      <g>
       <use href="#m1b8904711f" x="908.76" y="298.440000" style="fill: #b0b0b0; stroke: #b0b0b0"/>
      </g>
     </g>
     <g id="text_30">
      <text style="font-size: 10px; font-family: 'DejaVu Sans', 'Liberation Sans', sans-serif; text-anchor: start" x="912.26" y="302.239219" transform="rotate(-0 912.26 302.239219)">0</text>
     </g>
    </g>
    <g id="ytick_38">
     <g id="line2d_97">
      <g>
       <use href="#m1b8904711f" x="908.76" y="258.840000" style="fill: #b0b0b0; stroke: #b0b0b0"/>
      </g>
     </g>
     <g id="text_31">
      <text style="font-size: 10px; font-family: 'DejaVu Sans', 'Liberation Sans', sans-serif; text-anchor: start" x="912.26" y="262.639219" transform="rotate(-0 912.26 262.639219)">10</text>
     </g>
    </g>
    <g id="ytick_39">
     <g id="line2d_98">
      <g>
       <use href="#m1b8904711f" x="908.76" y="219.240000" style="fill: #b0b0b0; stroke: #b0b0b0"/>
      </g>
     </g>
     <g id="text_32">
      <text style="font-size: 10px; font-family: 'DejaVu Sans', 'Liberation Sans', sans-serif; text-anchor: start" x="912.26" y="223.039219" transform="rotate(-0 912.26 223.039219)">20</text>
     </g>
    </g>
    <g id="ytick_40">
     <g id="line2d_99">
      <g>
       <use href="#m1b8904711f" x="908.76" y="179.640000" style="fill: #b0b0b0; stroke: #b0b0b0"/>
      </g>
     </g>
     <g id="text_33">
      <text style="font-size: 10px; font-family: 'DejaVu Sans', 'Liberation Sans', sans-serif; text-anchor: start" x="912.26" y="183.439219" transform="rotate(-0 912.26 183.439219)">30</text>
     </g>
    </g>
    <g id="ytick_41">
     <g id="line2d_100">
      <g>
       <use href="#m1b8904711f" x="908.76" y="140.040000" style="fill: #b0b0b0; stroke: #b0b0b0"/>
      </g>
     </g>
     <g id="text_34">
      <text style="font-size: 10px; font-family: 'DejaVu Sans', 'Liberation Sans', sans-serif; text-anchor: start" x="912.26" y="143.839219" transform="rotate(-0 912.26 143.839219)">40</text>
     </g>
    </g>
    <g id="ytick_42">
     <g id="line2d_101">
      <g>
       <use href="#m1b8904711f" x="908.76" y="100.440000" style="fill: #b0b0b0; stroke: #b0b0b0"/>
      </g>
     </g>
     <g id="text_35">
      <text style="font-size: 10px; font-family: 'DejaVu Sans', 'Liberation Sans', sans-serif; text-anchor: start" x="912.26" y="104.239219" transform="rotate(-0 912.26 104.239219)">50</text>
     </g>
    </g>
    <g id="ytick_43">
     <g id="line2d_102">
      <g>
       <use href="#m1b8904711f" x="908.76" y="60.840000" style="fill: #b0b0b0; stroke: #b0b0b0"/>
      </g>
     </g>
     <g id="text_36">
      <text style="font-size: 10px; font-family: 'DejaVu Sans', 'Liberation Sans', sans-serif; text-anchor: start" x="912.26" y="64.639219" transform="rotate(-0 912.26 64.639219)">60</text>
     </g>
    </g>
    <g id="ytick_44">
     <g id="line2d_103">
      <g>
       <use href="#m1b8904711f" x="908.76" y="21.240000" style="fill: #b0b0b0; stroke: #b0b0b0"/>
      </g>
     </g>
     <g id="text_37">
      <text style="font-size: 10px; font-family: 'DejaVu Sans', 'Liberation Sans', sans-serif; text-anchor: start" x="912.26" y="25.039219" transform="rotate(-0 912.26 25.039219)">70</text>
     </g>
    </g>
    <g id="ytick_45">
     <g id="line2d_104">
      <g>
       <use href="#m90fd80a96a" x="908.76" y="290.520000" style="stroke: #000000; stroke-width: 0.6"/>
      </g>
     </g>
    </g>
    <g id="ytick_46">
     <g id="line2d_105">
      <g>
       <use href="#m90fd80a96a" x="908.76" y="282.600000" style="stroke: #000000; stroke-width: 0.6"/>
      </g>
     </g>
    </g>
    <g id="ytick_47">
     <g id="line2d_106">
      <g>
       <use href="#m90fd80a96a" x="908.76" y="274.680000" style="stroke: #000000; stroke-width: 0.6"/>
      </g>
     </g>
    </g>
    <g id="ytick_48">
     <g id="line2d_107">
      <g>
       <use href="#m90fd80a96a" x="908.76" y="266.760000" style="stroke: #000000; stroke-width: 0.6"/>
      </g>
     </g>
    </g>
    <g id="ytick_49">
     <g id="line2d_108">
      <g>
       <use href="#m90fd80a96a" x="908.76" y="250.920000" style="stroke: #000000; stroke-width: 0.6"/>
      </g>
     </g>
    </g>
    <g id="ytick_50">
     <g id="line2d_109">
      <g>
       <use href="#m90fd80a96a" x="908.76" y="243.000000" style="stroke: #000000; stroke-width: 0.6"/>
      </g>
     </g>
    </g>
    <g id="ytick_51">
     <g id="line2d_110">
      <g>
       <use href="#m90fd80a96a" x="908.76" y="235.080000" style="stroke: #000000; stroke-width: 0.6"/>
      </g>
     </g>
    </g>
    <g id="ytick_52">
     <g id="line2d_111">
      <g>
       <use href="#m90fd80a96a" x="908.76" y="227.160000" style="stroke: #000000; stroke-width: 0.6"/>
      </g>
     </g>
    </g>
    <g id="ytick_53">
     <g id="line2d_112">
      <g>
       <use href="#m90fd80a96a" x="908.76" y="211.320000" style="stroke: #000000; stroke-width: 0.6"/>
      </g>
     </g>
    </g>
    <g id="ytick_54">
     <g id="line2d_113">
      <g>
       <use href="#m90fd80a96a" x="908.76" y="203.400000" style="stroke: #000000; stroke-width: 0.6"/>
      </g>
     </g>
    </g>
    <g id="ytick_55">
     <g id="line2d_114">
      <g>
       <use href="#m90fd80a96a" x="908.76" y="195.480000" style="stroke: #000000; stroke-width: 0.6"/>
      </g>
     </g>
    </g>
    <g id="ytick_56">
     <g id="line2d_115">
      <g>
       <use href="#m90fd80a96a" x="908.76" y="187.560000" style="stroke: #000000; stroke-width: 0.6"/>
      </g>
     </g>
    </g>
    <g id="ytick_57">
     <g id="line2d_116">
      <g>
       <use href="#m90fd80a96a" x="908.76" y="171.720000" style="stroke: #000000; stroke-width: 0.6"/>
      </g>
     </g>
    </g>
    <g id="ytick_58">
     <g id="line2d_117">
      <g>
       <use href="#m90fd80a96a" x="908.76" y="163.800000" style="stroke: #000000; stroke-width: 0.6"/>
      </g>
     </g>
    </g>
    <g id="ytick_59">
     <g id="line2d_118">
      <g>
       <use href="#m90fd80a96a" x="908.76" y="155.880000" style="stroke: #000000; stroke-width: 0.6"/>
      </g>
     </g>
    </g>
    <g id="ytick_60">
     <g id="line2d_119">
      <g>
       <use href="#m90fd80a96a" x="908.76" y="147.960000" style="stroke: #000000; stroke-width: 0.6"/>
      </g>
     </g>
    </g>
    <g id="ytick_61">
     <g id="line2d_120">
      <g>
       <use href="#m90fd80a96a" x="908.76" y="132.120000" style="stroke: #000000; stroke-width: 0.6"/>
      </g>
     </g>
    </g>
    <g id="ytick_62">
     <g id="line2d_121">
      <g>
       <use href="#m90fd80a96a" x="908.76" y="124.200000" style="stroke: #000000; stroke-width: 0.6"/>
      </g>
     </g>
    </g>
    <g id="ytick_63">
     <g id="line2d_122">
      <g>
       <use href="#m90fd80a96a" x="908.76" y="116.280000" style="stroke: #000000; stroke-width: 0.6"/>
      </g>
     </g>
    </g>
    <g id="ytick_64">
     <g id="line2d_123">
      <g>
       <use href="#m90fd80a96a" x="908.76" y="108.360000" style="stroke: #000000; stroke-width: 0.6"/>
      </g>
     </g>
    </g>
    <g id="ytick_65">
     <g id="line2d_124">
      <g>
       <use href="#m90fd80a96a" x="908.76" y="92.520000" style="stroke: #000000; stroke-width: 0.6"/>
      </g>
     </g>
    </g>
    <g id="ytick_66">
     <g id="line2d_125">
      <g>
       <use href="#m90fd80a96a" x="908.76" y="84.600000" style="stroke: #000000; stroke-width: 0.6"/>
      </g>
     </g>
    </g>
    <g id="ytick_67">
     <g id="line2d_126">
      <g>
       <use href="#m90fd80a96a" x="908.76" y="76.680000" style="stroke: #000000; stroke-width: 0.6"/>
      </g>
     </g>
    </g>
    <g id="ytick_68">
     <g id="line2d_127">
      <g>
       <use href="#m90fd80a96a" x="908.76" y="68.760000" style="stroke: #000000; stroke-width: 0.6"/>
      </g>
     </g>
    </g>
    <g id="ytick_69">
     <g id="line2d_128">
      <g>
       <use href="#m90fd80a96a" x="908.76" y="52.920000" style="stroke: #000000; stroke-width: 0.6"/>
      </g>
     </g>
    </g>
    <g id="ytick_70">
     <g id="line2d_129">
      <g>
       <use href="#m90fd80a96a" x="908.76" y="45.000000" style="stroke: #000000; stroke-width: 0.6"/>
      </g>
     </g>
    </g>
    <g id="ytick_71">
     <g id="line2d_130">
      <g>
       <use href="#m90fd80a96a" x="908.76" y="37.080000" style="stroke: #000000; stroke-width: 0.6"/>
      </g>
     </g>
    </g>
    <g id="ytick_72">
     <g id="line2d_131">
      <g>
       <use href="#m90fd80a96a" x="908.76" y="29.160000" style="stroke: #000000; stroke-width: 0.6"/>
      </g>
     </g>
    </g>
    <g id="text_38">
     <text style="font-size: 10px; font-family: 'DejaVu Sans', 'Liberation Sans', sans-serif; text-anchor: middle" x="936.583438" y="159.84" transform="rotate(-90 936.583438 159.84)">P [mm]</text>
    </g>
   </g>
   <g id="patch_24">
    <path d="M 71.64 298.44 
L 71.64 21.24 
" style="fill: none; stroke: #000000; stroke-width: 0.8; stroke-linejoin: miter; stroke-linecap: square"/>
   </g>
   <g id="patch_25">
    <path d="M 908.76 298.44 
L 908.76 21.24 
" style="fill: none; stroke: #000000; stroke-width: 0.8; stroke-linejoin: miter; stroke-linecap: square"/>
   </g>
   <g id="patch_26">
    <path d="M 71.64 298.44 
L 908.76 298.44 
" style="fill: none; stroke: #000000; stroke-width: 0.8; stroke-linejoin: miter; stroke-linecap: square"/>
   </g>
   <g id="patch_27">
    <path d="M 71.64 21.24 
L 908.76 21.24 
" style="fill: none; stroke: #000000; stroke-width: 0.8; stroke-linejoin: miter; stroke-linecap: square"/>
   </g>
   <g id="legend_2">
    <g id="patch_28">
     <path d="M 811.586 101.055431 
L 903.016 101.055431 
Q 904.616 101.055431 904.616 99.455431 
L 904.616 26.576 
Q 904.616 24.976 903.016 24.976 
L 811.586 24.976 
Q 809.986 24.976 809.986 26.576 
L 809.986 99.455431 
Q 809.986 101.055431 811.586 101.055431 
z
" style="fill: #ffffff; fill-opacity: 0.8; stroke: #cccccc; stroke-opacity: 0.8; stroke-linejoin: miter"/>
    </g>
    <g id="text_39">
     <text style="font-size: 10px; font-family: 'DejaVu Sans', 'Liberation Sans', sans-serif; text-anchor: start" x="824.6385" y="36.038437" transform="rotate(-0 824.6385 36.038437)">Niederschlag</text>
    </g>
    <g id="line2d_132">
     <path d="M 813.186 45.816875 
L 821.186 45.816875 
L 829.186 45.816875 
" style="fill: none; stroke-dasharray: 5.55,2.52; stroke-dashoffset: 0; stroke: #000000; stroke-width: 1.5"/>
    </g>
    <g id="text_40">
     <text style="font-size: 8px; font-family: 'DejaVu Sans', 'Liberation Sans', sans-serif; text-anchor: start" x="835.586" y="48.616875" transform="rotate(-0 835.586 48.616875)">Gries im Sellrain</text>
    </g>
    <g id="patch_29">
     <path d="M 813.186 60.510577 
L 829.186 60.510577 
L 829.186 54.910577 
L 813.186 54.910577 
z
" style="fill: #d9e8f5; stroke: #d9e8f5; stroke-linejoin: miter"/>
    </g>
    <g id="text_41">
     <g transform="translate(835.586 61.470577)">
      <text style="font-size: 8px; font-family: 'DejaVu Sans', 'Liberation Sans', sans-serif"><tspan x="0" y="-0.921875">N</tspan> <tspan x="7.542969" y="-0.921875">≥</tspan> <tspan x="15.804688" y="-0.921875">0.1mm/h</tspan></text>
     </g>
    </g>
    <g id="patch_30">
     <path d="M 813.186 72.404278 
L 829.186 72.404278 
L 829.186 66.804278 
L 813.186 66.804278 
z
" style="fill: #b7d4ea; stroke: #b7d4ea; stroke-linejoin: miter"/>
    </g>
    <g id="text_42">
     <g transform="translate(835.586 73.364278)">
      <text style="font-size: 8px; font-family: 'DejaVu Sans', 'Liberation Sans', sans-serif"><tspan x="0" y="-0.921875">N</tspan> <tspan x="7.542969" y="-0.921875">≥</tspan> <tspan x="15.804688" y="-0.921875">0.5mm/h</tspan></text>
     </g>
    </g>
    <g id="patch_31">
     <path d="M 813.186 84.29798 
L 829.186 84.29798 
L 829.186 78.69798 
L 813.186 78.69798 
z
" style="fill: #7fb9da; stroke: #7fb9da; stroke-linejoin: miter"/>
    </g>
    <g id="text_43">
     <g transform="translate(835.586 85.25798)">
      <text style="font-size: 8px; font-family: 'DejaVu Sans', 'Liberation Sans', sans-serif"><tspan x="0" y="-0.921875">N</tspan> <tspan x="7.542969" y="-0.921875">≥</tspan> <tspan x="15.804688" y="-0.921875">4mm/h</tspan></text>
     </g>
    </g>
    <g id="patch_32">
     <path d="M 813.186 96.191681 
L 829.186 96.191681 
L 829.186 90.591681 
L 813.186 90.591681 
z
" style="fill: #4a98c9; stroke: #4a98c9; stroke-linejoin: miter"/>
    </g>
    <g id="text_44">
     <g transform="translate(835.586 97.151681)">
      <text style="font-size: 8px; font-family: 'DejaVu Sans', 'Liberation Sans', sans-serif"><tspan x="0" y="-0.921875">N</tspan> <tspan x="7.542969" y="-0.921875">≥</tspan> <tspan x="15.804688" y="-0.921875">10mm/h</tspan></text>
     </g>
    </g>
   </g>
  </g>
 </g>
 <defs>
  <clipPath id="p593265ad93">
   <rect x="71.64" y="21.24" width="837.12" height="277.2"/>
  </clipPath>
 </defs>
</svg>

</body></html>
